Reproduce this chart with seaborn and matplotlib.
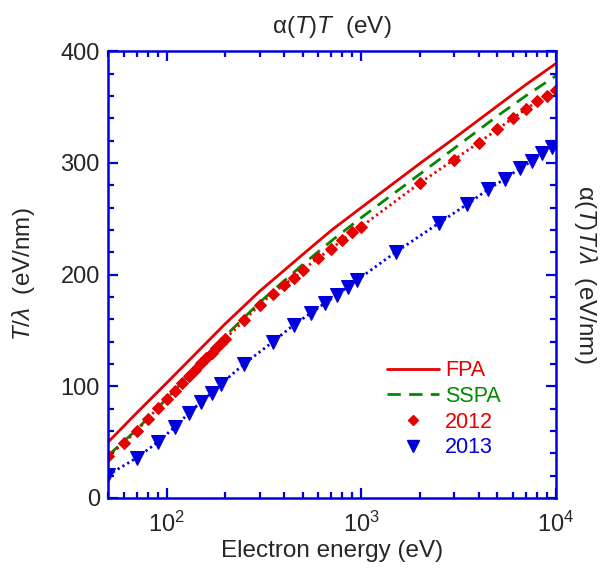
import numpy as np
import matplotlib
matplotlib.use("Agg")
import matplotlib.pyplot as plt
from matplotlib.lines import Line2D
from matplotlib.ticker import MultipleLocator, LogLocator, NullFormatter
import seaborn as sns

# FPA (solid red) and SSPA (dashed green) curves
fpa_energy = [50, 70, 100, 150, 200, 300, 500, 700, 1000, 2000, 3000, 5000, 7000, 10000]
fpa_value = [50, 76, 103, 134, 156, 185, 218, 239.5, 260, 299.5, 322, 351, 370, 389]

sspa_energy = [50, 70, 100, 150, 200, 300, 500, 700, 1000, 2000, 3000, 5000, 7000, 10000]
sspa_value = [38, 61, 89, 121, 145, 175, 209, 230, 251, 290, 313, 342, 360, 378]

# 2012 points (red diamonds)
e2012 = [50, 60, 70, 80, 90, 100, 110, 120, 130, 140, 150, 160, 170, 180, 190, 200,
         250, 300, 350, 400, 450, 500, 600, 700, 800, 900, 1000,
         2000, 3000, 4000, 5000, 6000, 7000, 8000, 9000, 10000]
v2012 = [37.6, 49, 60, 71, 80.5, 88.6, 96, 103, 109, 115, 120.5, 125.5, 130, 134.5, 138.5, 142.5,
         159, 173, 183, 191, 197, 204, 215, 223, 231, 238, 243,
         282, 303, 318, 330, 340, 348, 355, 360, 365]

# 2013 points (blue triangles)
e2013 = [50, 70, 90, 110, 130, 150, 170, 190, 250, 350, 450, 550, 650, 750, 850, 950,
         1500, 2500, 3500, 4500, 5500, 6500, 7500, 8500, 9500]
v2013 = [20.6, 35.8, 50, 63.5, 76, 86, 94, 102, 120, 139.6, 155, 165.5, 174.5, 181.6, 189, 195,
         220, 246, 263, 276.5, 286, 295, 301.6, 308.7, 314]

red = '#e60000'
green = '#008a00'
blue = '#0000dd'

sns.set_style("ticks")
plt.rcParams['font.family'] = ['Liberation Sans', 'DejaVu Sans']
plt.rcParams['mathtext.fontset'] = 'custom'
plt.rcParams['mathtext.rm'] = 'Liberation Sans'
plt.rcParams['mathtext.it'] = 'Liberation Sans:italic'
plt.rcParams['mathtext.default'] = 'regular'

fig = plt.figure(figsize=(6.04, 5.75), dpi=100)
ax = fig.add_axes([0.179, 0.134, 0.7415, 0.777])

sns.lineplot(x=fpa_energy, y=fpa_value, color=red, linewidth=2.0, sort=False, ax=ax)
sns.lineplot(x=sspa_energy, y=sspa_value, color=green, linewidth=2.0,
             linestyle=(0, (4.8, 3)), sort=False, ax=ax)
sns.lineplot(x=e2012, y=v2012, color=red, linewidth=2.0, linestyle=(0, (0.8, 1.2)),
             marker='D', markersize=6.5, markeredgecolor=red, sort=False, ax=ax)
sns.lineplot(x=e2013, y=v2013, color=blue, linewidth=2.0, linestyle=(0, (0.8, 1.2)),
             marker='v', markersize=9.5, markeredgecolor=blue, sort=False, ax=ax)

ax.set_xscale('log')
ax.set_xlim(50, 10000)
ax.set_ylim(0, 400)
ax.yaxis.set_major_locator(MultipleLocator(100))
ax.yaxis.set_minor_locator(MultipleLocator(20))
ax.xaxis.set_major_locator(LogLocator(base=10))
ax.xaxis.set_minor_locator(LogLocator(base=10, subs=np.arange(2, 10)))
ax.xaxis.set_minor_formatter(NullFormatter())

for s in ax.spines.values():
    s.set_color(blue)
    s.set_linewidth(1.8)
ax.tick_params(which='both', direction='in', top=True, right=True, color=blue,
               width=1.6, labelsize=17)
ax.tick_params(axis='y', pad=6)
ax.tick_params(axis='x', pad=10)
ax.tick_params(which='major', length=7)
ax.tick_params(which='minor', length=4.5)

ax.set_xlabel('Electron energy (eV)', fontsize=17.5, labelpad=2)
ax.set_ylabel(r'$\it{T}/\lambda$  (eV/nm)', fontsize=17.5, labelpad=17)
ax.set_title(r'$\alpha(\it{T})\it{T}$  (eV)', fontsize=17.5, pad=13)
ax.text(1.035, 0.5, r'$\alpha(\it{T})\it{T}/\lambda$  (eV/nm)', transform=ax.transAxes,
        rotation=270, fontsize=17.5, ha='left', va='center')

handles = [
    Line2D([], [], color=red, linewidth=2.0),
    Line2D([], [], color=green, linewidth=2.0, linestyle=(0, (4.8, 3))),
    Line2D([], [], color=red, linestyle='none', marker='D', markersize=5.5),
    Line2D([], [], color=blue, linestyle='none', marker='v', markersize=8),
]
ax.legend(handles, ['FPA', 'SSPA', '2012', '2013'], loc='lower right',
          bbox_to_anchor=(0.92, 0.045), frameon=False, fontsize=15.5, handlelength=2.4,
          handletextpad=0.3, labelspacing=0.22, labelcolor=[red, green, red, blue])

fig.savefig('out.png', dpi=100)
